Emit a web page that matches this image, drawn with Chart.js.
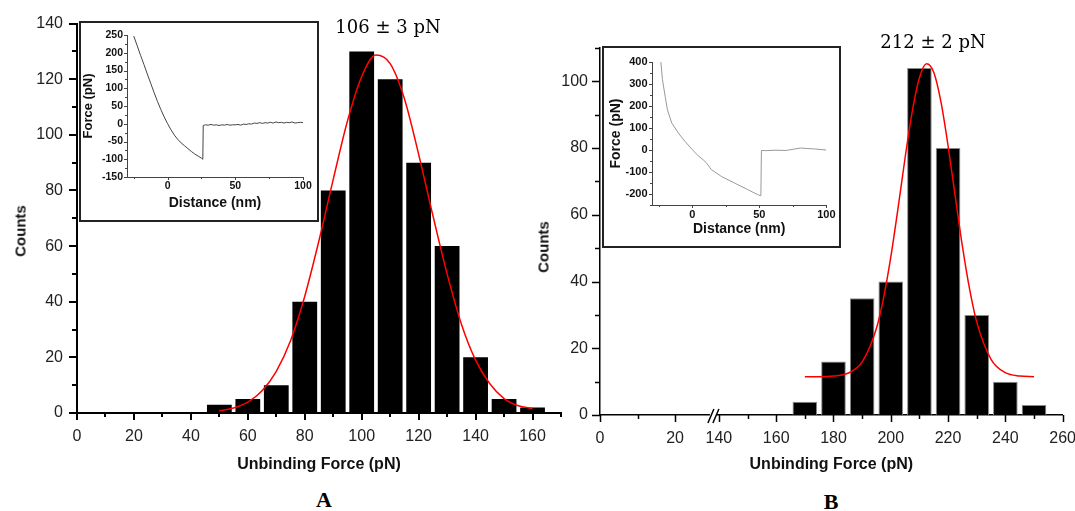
<!DOCTYPE html>
<html>
<head>
<meta charset="utf-8">
<script src="https://cdn.jsdelivr.net/npm/chart.js@4/dist/chart.umd.min.js"></script>
<style>
  body { margin: 0; width: 1075px; height: 511px; overflow: hidden; background: #fff; position: relative; font-family: "Liberation Sans", Arial, sans-serif; }
  .abs { position: absolute; }
  .inset { position: absolute; border: 2px solid #222; background: #fff; }
  .note { position: absolute; font-family: "DejaVu Serif", serif; font-size: 18px; line-height: 1; transform: translate(-50%, -50%); white-space: nowrap; color: #000; }
  .letter { position: absolute; font-family: "Liberation Serif", serif; font-weight: bold; font-size: 22px; line-height: 1; transform: translate(-50%, -50%); }
  .ytitle { position: absolute; font-weight: bold; font-size: 15px; line-height: 1; color: #111; transform: translate(-50%, -50%) rotate(-90deg); white-space: nowrap; }
</style>
</head>
<body>
<canvas id="chartA" class="abs" style="left:0;top:0" width="575" height="480"></canvas>
<canvas id="chartB" class="abs" style="left:530px;top:0" width="560" height="480"></canvas>
<div class="inset" style="left:79px;top:21px;width:236px;height:197px"><canvas id="insetA" width="236" height="197"></canvas></div>
<div class="inset" style="left:602px;top:46px;width:235px;height:198px"><canvas id="insetB" width="235" height="198"></canvas></div>
<div class="ytitle" style="left:20px;top:231px">Counts</div>
<div class="ytitle" style="left:543px;top:247px">Counts</div>
<div class="note" style="left:388px;top:27px">106 ± 3 pN</div>
<div class="note" style="left:933px;top:42px">212 ± 2 pN</div>
<div class="letter" style="left:324px;top:500px">A</div>
<div class="letter" style="left:831px;top:502px">B</div>
<script>
// panel A histogram
const binsA = [50, 60, 70, 80, 90, 100, 110, 120, 130, 140, 150, 160];
const countsA = [3, 5, 10, 40, 80, 130, 120, 90, 60, 20, 5, 2];
const fitXA = [50, 55, 60, 65, 70, 75, 80, 85, 90, 95, 100, 105, 110, 115, 120, 125, 130, 135, 140, 145, 150, 155, 160];
const fitYA = [0.8, 1.8, 3.9, 8, 15, 26, 42, 62, 84, 105, 121, 128.7, 125.6, 113, 93, 71, 50, 32, 19, 10.5, 5.2, 2.6, 1.6];

// panel B histogram
const binsB = [170, 180, 190, 200, 210, 220, 230, 240, 250];
const countsB = [4, 16, 35, 40, 104, 80, 30, 10, 3];
const fitXB = [170, 175, 180, 185, 190, 195, 197.5, 200, 202.5, 205, 207.5, 210, 212.5, 215, 217.5, 220, 222.5, 225, 227.5, 230, 235, 240, 245, 250];
const fitYB = [11.5, 11.5, 11.7, 12.5, 15.9, 26, 35.2, 47.3, 61.8, 77.1, 91, 101.1, 105.3, 102.7, 93.9, 80.7, 65.5, 50.6, 37.8, 27.9, 16.7, 12.7, 11.7, 11.5];

// inset A force curve
const distA = [-25, -22.5, -20, -17.5, -15, -12.5, -10, -7.5, -5, -2.5, 0, 2.5, 5, 7.5, 10, 12.5, 15, 17.5, 20, 22.5, 25, 26,
  26.3, 28, 30, 32, 34, 36, 38, 40, 42, 44, 46, 48, 50, 52, 54, 56, 58, 60, 62, 64, 66, 68, 70, 72, 74, 76, 78, 80, 82, 84, 86, 88, 90, 92, 94, 96, 98, 100];
const forceA = [247, 220, 193, 167, 140, 114, 88, 63, 40, 19, 0, -17, -32, -44, -54, -62, -70, -78, -85, -91, -97, -100,
  -5, -3, -4, -2, -4, -3, -5, -3, -4, -2, -4, -3, -3, -2, -4, -1, -2, 0, -1, 2, 1, 3, 1, 3, 2, 4, 2, 5, 3, 4, 2, 4, 3, 5, 2, 3, 4, 3];

// inset B force curve
const distB = [-23.4, -22.2, -20.2, -18.5, -15.3, -10.3, -5.4, 0, 4.4, 8.1, 10.6, 14.3, 21.7, 31.5, 41.4, 48.8, 51.2, 51.6, 55, 61, 70, 76, 80.8, 85, 90.6, 100];
const forceB = [400, 320, 244, 183, 123, 77, 39, 2, -26, -44, -59, -89, -120, -150, -180, -203, -208, -2, -3, -1, -2, 4, 9, 7, 5, 0];

// tick labels
const tickLabelsA = [0, 20, 40, 60, 80, 100, 120, 140, 160];
const tickValuesB = [0, 10, 20, 140, 150, 160, 170, 180, 190, 200, 210, 220, 230, 240, 250, 260];
const tickLabelsB = [0, 20, 140, 160, 180, 200, 220, 240, 260];

// broken axis: real value -> fraction of the axis length
const breakReal = [0, 20, 140, 260];
const breakFrac = [0, 0.1622, 0.2570, 1];

function piecewise(v, from, to) {
  for (let i = 1; i < from.length; i++) {
    if (v <= from[i] || i === from.length - 1) {
      const t = (v - from[i - 1]) / (from[i] - from[i - 1]);
      return to[i - 1] + t * (to[i] - to[i - 1]);
    }
  }
}

class BrokenLinearScale extends Chart.LinearScale {
  buildTicks() {
    return tickValuesB.map(v => ({value: v}));
  }
  getPixelForValue(value) {
    if (value === null) return NaN;
    return this.getPixelForDecimal(piecewise(value, breakReal, breakFrac));
  }
  getValueForPixel(pixel) {
    return piecewise(this.getDecimalForPixel(pixel), breakFrac, breakReal);
  }
}
BrokenLinearScale.id = 'brokenLinear';
BrokenLinearScale.defaults = {};
Chart.register(BrokenLinearScale);

Chart.defaults.font.family = '"Liberation Sans", Arial, sans-serif';
Chart.defaults.animation = false;
Chart.defaults.plugins.legend.display = false;
Chart.defaults.plugins.tooltip.enabled = false;

// short ticks for unlabelled values, longer for labelled ones
const tickMarks = {
  id: 'tickMarks',
  afterDraw(chart, args, opts) {
    const ctx = chart.ctx;
    ctx.save();
    ctx.strokeStyle = opts.color;
    ctx.lineWidth = opts.width;
    const off = opts.width % 2 ? 0.5 : 0;
    ['x', 'y'].forEach(id => {
      const s = chart.scales[id];
      const len = opts[id];
      ctx.beginPath();
      s.ticks.forEach((t, i) => {
        const l = t.label !== '' ? len[0] : len[1];
        const p = Math.round(s.getPixelForTick(i)) + off;
        if (id === 'x') { ctx.moveTo(p, s.top); ctx.lineTo(p, s.top + l); }
        else { ctx.moveTo(s.right, p); ctx.lineTo(s.right - l, p); }
      });
      ctx.stroke();
    });
    ctx.restore();
  }
};

const axisBreak = {
  id: 'axisBreak',
  afterDraw(chart) {
    const s = chart.scales.x;
    const px = s.getPixelForValue(140) - 5;
    const y = s.top;
    const ctx = chart.ctx;
    ctx.save();
    ctx.fillStyle = '#fff';
    ctx.fillRect(px - 4, y - 2, 7, 4);
    ctx.strokeStyle = '#000';
    ctx.lineWidth = 1.5;
    ctx.beginPath();
    ctx.moveTo(px - 6, y + 8); ctx.lineTo(px, y - 6);
    ctx.moveTo(px - 1, y + 8); ctx.lineTo(px + 5, y - 6);
    ctx.stroke();
    ctx.restore();
  }
};

function pts(xs, ys) { return xs.map((x, i) => ({x: x, y: ys[i]})); }

const mainTicks = {font: {size: 16}, color: '#222', autoSkip: false, maxRotation: 0};
const titleFont = {size: 16, weight: 'bold'};

new Chart(document.getElementById('chartA'), {
  type: 'bar',
  data: {
    datasets: [
      {type: 'line', data: pts(fitXA, fitYA), borderColor: '#ff0000', borderWidth: 1.5, pointRadius: 0, cubicInterpolationMode: 'monotone', order: 0},
      {type: 'bar', data: pts(binsA, countsA), backgroundColor: '#000', barPercentage: 0.87, categoryPercentage: 1, order: 1}
    ]
  },
  options: {
    responsive: false,
    layout: {padding: {top: 21, right: 10, left: 0, bottom: 0}},
    scales: {
      x: {
        type: 'linear', min: 0, max: 170, offset: false,
        grid: {display: false, drawTicks: false},
        border: {color: '#000', width: 2},
        ticks: Object.assign({}, mainTicks, {stepSize: 10, includeBounds: false, padding: 14,
          callback: v => tickLabelsA.includes(v) ? String(v) : ''}),
        title: {display: true, text: 'Unbinding Force (pN)', font: titleFont, color: '#111', padding: {top: 0, bottom: 6}},
        afterFit: s => { s.height = 67; }
      },
      y: {
        min: 0, max: 140,
        grid: {display: false, drawTicks: false},
        border: {color: '#000', width: 2},
        ticks: Object.assign({}, mainTicks, {stepSize: 10, padding: 14,
          callback: v => v % 20 === 0 ? String(v) : ''}),
        afterFit: s => { s.width = 77; }
      }
    },
    plugins: {tickMarks: {color: '#000', width: 2, x: [7, 4], y: [8, 5]}}
  },
  plugins: [tickMarks]
});

new Chart(document.getElementById('chartB'), {
  type: 'bar',
  data: {
    datasets: [
      {type: 'line', data: pts(fitXB, fitYB), borderColor: '#ff0000', borderWidth: 1.5, pointRadius: 0, cubicInterpolationMode: 'monotone', order: 0},
      {type: 'bar', data: pts(binsB, countsB), backgroundColor: '#000', borderColor: '#8a8a8a', borderWidth: 1, barPercentage: 0.86, categoryPercentage: 1, order: 1}
    ]
  },
  options: {
    responsive: false,
    layout: {padding: {top: 48, right: 27, left: 0, bottom: 0}},
    scales: {
      x: {
        type: 'brokenLinear', min: 0, max: 260, offset: false,
        grid: {display: false, drawTicks: false},
        border: {color: '#000', width: 1.5},
        ticks: Object.assign({}, mainTicks, {padding: 14,
          callback: v => tickLabelsB.includes(v) ? String(v) : ''}),
        title: {display: true, text: 'Unbinding Force (pN)', font: titleFont, color: '#111', padding: {top: 0, bottom: 6}},
        afterFit: s => { s.height = 65; }
      },
      y: {
        min: 0, max: 110,
        grid: {display: false, drawTicks: false},
        border: {color: '#000', width: 1.5},
        ticks: Object.assign({}, mainTicks, {stepSize: 10, padding: 12,
          callback: v => v % 20 === 0 ? String(v) : ''}),
        afterFit: s => { s.width = 70; }
      }
    },
    plugins: {tickMarks: {color: '#000', width: 1.5, x: [7, 4], y: [8, 5]}}
  },
  plugins: [tickMarks, axisBreak]
});

function insetOptions(o) {
  return {
    responsive: false,
    layout: {padding: {top: o.top, right: o.right, left: 0, bottom: 0}},
    scales: {
      x: {
        type: 'linear', min: -30, max: 100,
        grid: {display: false, drawTicks: false},
        border: {color: '#444', width: 1},
        ticks: {stepSize: 25, includeBounds: false, autoSkip: false, maxRotation: 0, padding: o.xPad,
          font: {size: o.tickSize, weight: 'bold'}, color: '#111',
          callback: v => v % 50 === 0 ? String(v) : ''},
        title: {display: true, text: 'Distance (nm)', font: {size: o.xTitle, weight: 'bold'}, color: '#111', padding: {top: 0, bottom: o.xTitlePad}},
        afterFit: s => { s.height = o.xHeight; }
      },
      y: {
        min: o.yMin, max: o.yMax,
        grid: {display: false, drawTicks: false},
        border: {color: '#444', width: 1},
        ticks: {stepSize: o.yStep, autoSkip: false, padding: o.yPad,
          font: {size: o.tickSize, weight: 'bold'}, color: '#111',
          callback: v => v % o.yLabelStep === 0 ? String(v) : ''},
        title: {display: true, text: 'Force (pN)', font: {size: o.yTitle, weight: 'bold'}, color: '#111', padding: {top: o.yTitlePad, bottom: 0}},
        afterFit: s => { s.width = o.yWidth; }
      }
    },
    plugins: {tickMarks: {color: '#444', width: 1, x: [3, 2], y: [3, 2]}}
  };
}

new Chart(document.getElementById('insetA'), {
  type: 'line',
  data: {datasets: [{data: pts(distA, forceA), borderColor: '#444', borderWidth: 1, pointRadius: 0, tension: 0}]},
  options: insetOptions({top: 12, right: 14, xPad: 3, yPad: 4, tickSize: 10.5, xTitle: 14, xTitlePad: 8, yTitle: 13, yTitlePad: 0,
    xHeight: 43, yWidth: 46, yMin: -150, yMax: 250, yStep: 25, yLabelStep: 50}),
  plugins: [tickMarks]
});

new Chart(document.getElementById('insetB'), {
  type: 'line',
  data: {datasets: [{data: pts(distB, forceB), borderColor: '#999', borderWidth: 1, pointRadius: 0, tension: 0}]},
  options: insetOptions({top: 14, right: 10, xPad: 3.5, yPad: 4.5, tickSize: 11, xTitle: 14, xTitlePad: 8, yTitle: 14, yTitlePad: 4,
    xHeight: 41, yWidth: 48, yMin: -250, yMax: 400, yStep: 50, yLabelStep: 100}),
  plugins: [tickMarks]
});
</script>
</body>
</html>
